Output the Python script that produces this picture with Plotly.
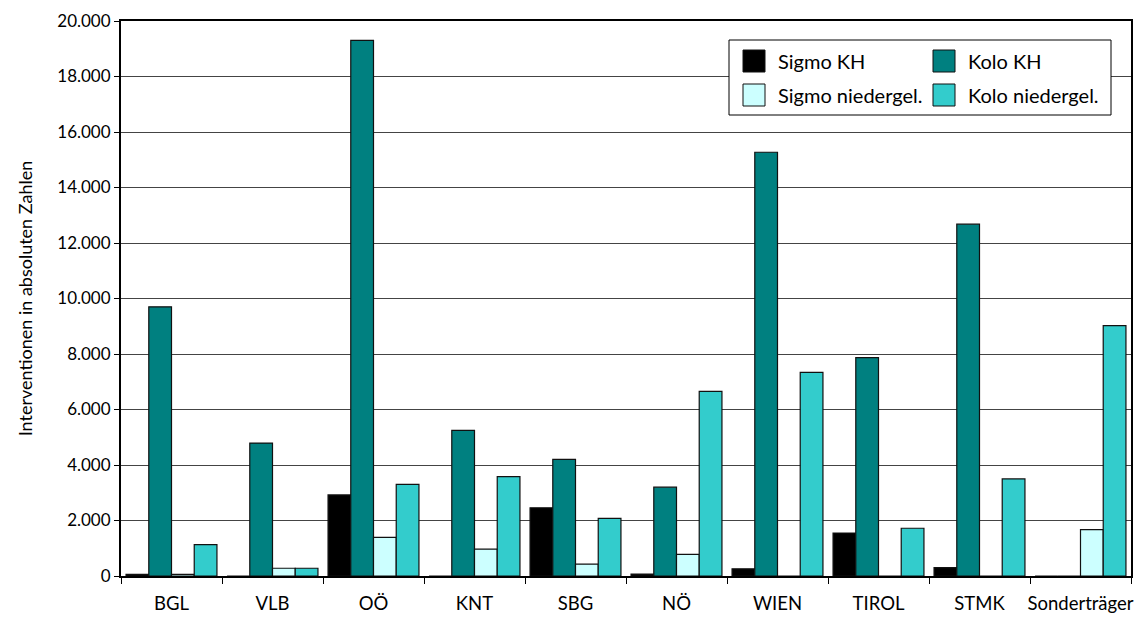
import plotly.graph_objects as go

regions = ["BGL", "VLB", "OÖ", "KNT", "SBG", "NÖ", "WIEN", "TIROL", "STMK", "Sonderträger"]
series_names = ["Sigmo KH", "Kolo KH", "Sigmo niedergel.", "Kolo niedergel."]
sigmo_kh = [60, 0, 2920, 0, 2460, 70, 260, 1550, 300, 0]
kolo_kh = [9700, 4790, 19300, 5250, 4200, 3200, 15270, 7870, 12680, 0]
sigmo_nied = [60, 280, 1390, 970, 430, 780, 0, 0, 0, 1670]
kolo_nied = [1130, 280, 3300, 3580, 2080, 6650, 7340, 1720, 3500, 9020]
series_values = [sigmo_kh, kolo_kh, sigmo_nied, kolo_nied]
colors = ["#000000", "#008080", "#CCFFFF", "#33CCCC"]

FONT = "Lato, 'Open Sans', sans-serif"
# page body has an 8px margin, so the figure is 8px smaller than the window
OFF = 8
W, H = 1144 - OFF, 617 - OFF
L, R, T, B = 121 - OFF, 13, 21 - OFF, 41

fig = go.Figure()
for name, vals, col in zip(series_names, series_values, colors):
    fig.add_trace(go.Bar(
        x=regions, y=vals, name=name,
        marker=dict(color=col, line=dict(color="#111111", width=1.2)),
        showlegend=False,
    ))

fig.update_layout(
    width=W, height=H,
    margin=dict(l=L, r=R, t=T, b=B),
    paper_bgcolor="white", plot_bgcolor="white",
    barmode="group", bargap=0.1, bargroupgap=0,
    separators=",.",
    font=dict(family=FONT, size=16, color="black"),
)
fig.update_xaxes(
    showline=True, linecolor="black", linewidth=1.5, mirror=True,
    ticks="outside", ticklen=6, tickcolor="black", tickson="boundaries",
    tickfont=dict(size=18.5), tickangle=0, ticklabelstandoff=10,
    showgrid=False, automargin=False,
)
fig.update_yaxes(
    range=[0, 20000], dtick=2000, tickformat=",d",
    showline=True, linecolor="black", linewidth=2, mirror=True,
    ticks="outside", ticklen=5, tickcolor="black",
    showgrid=True, gridcolor="#444444", gridwidth=1,
    tickfont=dict(size=17), automargin=False,
    title=dict(text="Interventionen in absoluten Zahlen", font=dict(size=18), standoff=20),
    zeroline=False,
)

# legend box drawn in window pixel coordinates, converted to paper units
pw, ph = W - L - R, H - T - B
def px(x):
    return (x - OFF - L) / pw
def py(y):
    return (H - B - (y - OFF)) / ph

fig.add_shape(type="rect", xref="paper", yref="paper",
              x0=px(729), x1=px(1111), y0=py(115), y1=py(40),
              fillcolor="white", line=dict(color="black", width=1), layer="above")
cols = [743, 933]
rows = [61, 95]
for i, (name, col) in enumerate(zip(series_names, colors)):
    cx = cols[i % 2]
    cy = rows[i // 2]
    fig.add_shape(type="rect", xref="paper", yref="paper",
                  x0=px(cx), x1=px(cx + 22), y0=py(cy + 11), y1=py(cy - 11),
                  fillcolor=col, line=dict(color="#111111", width=1), layer="above")
    fig.add_annotation(xref="paper", yref="paper", x=px(cx + 33), y=py(cy),
                       text=name, showarrow=False, xanchor="left", yanchor="middle",
                       font=dict(size=20, family=FONT, color="black"))

fig.write_html("out.html")
